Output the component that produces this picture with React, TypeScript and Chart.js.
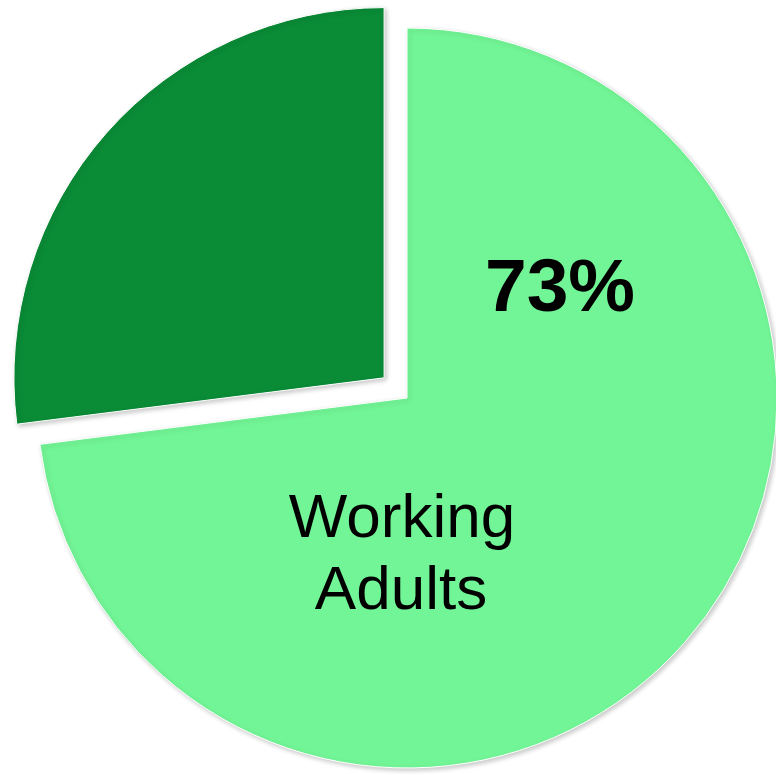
import React, { useEffect, useRef } from "react";
import { Chart, registerables } from "chart.js";

Chart.register(...registerables);

const categories = ["Working Adults", "Other"];
const values = [73, 27];
const sliceColors = ["#72F596", "#0A8B36"];
const sliceOffsets = [0, 122];
const percentLabel = "73%";
const nameLines = ["Working", "Adults"];

export default function App() {
  const ref = useRef<HTMLCanvasElement | null>(null);

  useEffect(() => {
    if (!ref.current) return;
    const shadowPlugin = {
      id: "shadowPlugin",
      beforeDatasetsDraw(chart: any) {
        const ctx = chart.ctx;
        ctx.save();
        ctx.shadowColor = "rgba(0,0,0,0.22)";
        ctx.shadowBlur = 5;
        ctx.shadowOffsetX = 2;
        ctx.shadowOffsetY = 2;
      },
      afterDatasetsDraw(chart: any) {
        chart.ctx.restore();
      },
    };
    const labelPlugin = {
      id: "labelPlugin",
      afterDraw(chart: any) {
        const ctx = chart.ctx;
        const meta = chart.getDatasetMeta(0);
        const arc = meta.data[0];
        const cx = arc.x;
        const cy = arc.y;
        ctx.save();
        ctx.fillStyle = "#000";
        ctx.textAlign = "center";
        ctx.textBaseline = "alphabetic";
        ctx.font = "bold 75px 'Liberation Sans', Arial, sans-serif";
        ctx.fillText(percentLabel, cx + 153, cy - 87);
        ctx.font = "62px 'Liberation Sans', Arial, sans-serif";
        ctx.fillText(nameLines[0], cx - 5, cy + 139);
        ctx.fillText(nameLines[1], cx - 6, cy + 211);
        ctx.restore();
      },
    };
    const chart = new Chart(ref.current, {
      type: "pie",
      data: {
        labels: categories,
        datasets: [
          {
            data: values,
            backgroundColor: sliceColors,
            borderColor: "#ffffff",
            borderWidth: 1,
            offset: sliceOffsets,
            clip: false,
          } as any,
        ],
      },
      options: {
        animation: false,
        responsive: true,
        maintainAspectRatio: false,
        events: [],
        radius: 370,
        layout: { padding: { left: 38, top: 21, right: 0, bottom: 0 } },
        plugins: {
          legend: { display: false },
          tooltip: { enabled: false },
        },
      } as any,
      plugins: [shadowPlugin, labelPlugin],
    });
    return () => chart.destroy();
  }, []);

  return (
    <div style={{ position: "absolute", left: 0, top: 0, width: 776, height: 775 }}>
      <canvas ref={ref} />
    </div>
  );
}
